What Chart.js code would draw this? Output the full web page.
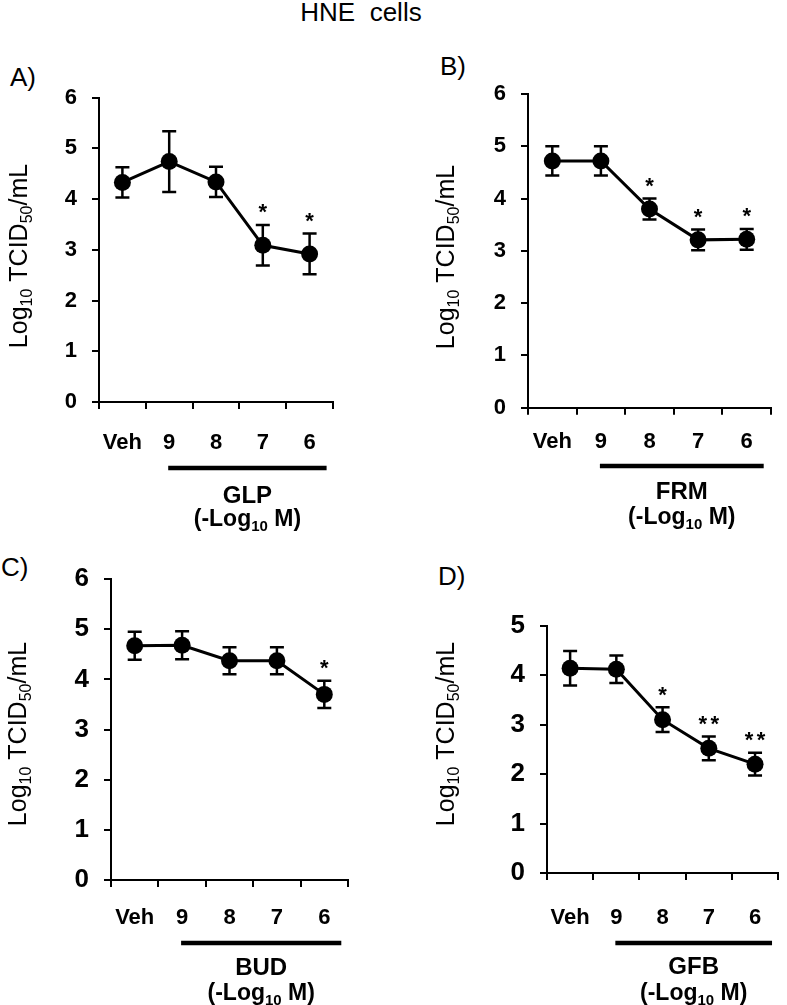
<!DOCTYPE html>
<html>
<head>
<meta charset="utf-8">
<title>HNE cells</title>
<script src="https://cdn.jsdelivr.net/npm/chart.js@4.4.1/dist/chart.umd.min.js"></script>
<style>
  html, body { margin: 0; padding: 0; background: #fff; }
  #page { position: relative; width: 787px; height: 1005px; overflow: hidden;
          font-family: "Liberation Sans", Arial, sans-serif; color: #000; }
  .lbl { position: absolute; font-size: 26px; line-height: 26px; white-space: pre; }
  .box { position: absolute; }
</style>
</head>
<body>
<div id="page">
  <div class="lbl" style="left:0;width:722px;text-align:center;top:-1px">HNE  cells</div>
  <div class="lbl" style="left:10px;top:64px">A)</div>
  <div class="lbl" style="left:440px;top:53px">B)</div>
  <div class="lbl" style="left:1px;top:554px">C)</div>
  <div class="lbl" style="left:438px;top:563px">D)</div>

  <div class="box" style="left:0;top:50px;width:393px;height:485px"><canvas id="cA"></canvas></div>
  <div class="box" style="left:393px;top:50px;width:394px;height:485px"><canvas id="cB"></canvas></div>
  <div class="box" style="left:0;top:540px;width:393px;height:465px"><canvas id="cC"></canvas></div>
  <div class="box" style="left:393px;top:540px;width:394px;height:465px"><canvas id="cD"></canvas></div>
</div>

<script>
// categorias del eje x (dosis, -log10 M)
const categories = ['Veh', '9', '8', '7', '6'];

// A) GLP
const glpMean = [4.33, 4.74, 4.34, 3.09, 2.92];
const glpErr = [0.30, 0.60, 0.30, 0.40, 0.40];
const glpStars = ['', '', '', '*', '*'];

// B) FRM
const frmMean = [4.72, 4.72, 3.80, 3.21, 3.22];
const frmErr = [0.28, 0.28, 0.20, 0.20, 0.20];
const frmStars = ['', '', '*', '*', '*'];

// C) BUD
const budMean = [4.67, 4.68, 4.37, 4.37, 3.70];
const budErr = [0.28, 0.28, 0.27, 0.27, 0.27];
const budStars = ['', '', '', '', '*'];

// D) GFB
const gfbMean = [4.14, 4.12, 3.10, 2.52, 2.20];
const gfbErr = [0.35, 0.28, 0.25, 0.24, 0.23];
const gfbStars = ['', '', '*', '**', '**'];

const yMaxTop = 6;     // A, B, C
const yMaxBottomRight = 5; // D

const FONT = '"Liberation Sans", Arial, sans-serif';
const TICK_LEN = 7;
const X_H = 75;

// paneles: posicion del canvas y del area de trazado (coordenadas de pagina)
const panels = [
    { id: 'cA', left: 0, top: 50, w: 393, h: 485, l: 99, r: 333, t: 97.7, b: 402,
      yMax: yMaxTop, yFont: 22, labelY: 443, barY: 468, nameY: 494, unitY: 518,
      titleX: 21, titleY: 256, name: 'GLP', mean: glpMean, err: glpErr, stars: glpStars },
    { id: 'cB', left: 393, top: 50, w: 394, h: 485, l: 528, r: 771, t: 94, b: 407.7,
      yMax: yMaxTop, yFont: 22, labelY: 442, barY: 466, nameY: 490, unitY: 516,
      titleX: 448, titleY: 257, name: 'FRM', mean: frmMean, err: frmErr, stars: frmStars },
    { id: 'cC', left: 0, top: 540, w: 393, h: 465, l: 111, r: 348, t: 579, b: 880,
      yMax: yMaxTop, yFont: 26, labelY: 918, barY: 943, nameY: 966, unitY: 992,
      titleX: 20, titleY: 734, name: 'BUD', mean: budMean, err: budErr, stars: budStars },
    { id: 'cD', left: 393, top: 540, w: 394, h: 465, l: 547, r: 786, t: 625.7, b: 873,
      yMax: yMaxBottomRight, yFont: 26, labelY: 918, barY: 943, nameY: 965, unitY: 992,
      titleX: 448, titleY: 734, name: 'GFB', mean: gfbMean, err: gfbErr, stars: gfbStars }
];

// texto con subindices
function drawRich(ctx, parts, size, weight, cx, baseY) {
    const subSize = Math.round(size * 0.64);
    let total = 0;
    const widths = parts.map(p => {
        ctx.font = `${weight} ${p.sub ? subSize : size}px ${FONT}`;
        const w = ctx.measureText(p.t).width;
        total += w;
        return w;
    });
    let x = cx - total / 2;
    ctx.textAlign = 'left';
    ctx.textBaseline = 'alphabetic';
    parts.forEach((p, i) => {
        ctx.font = `${weight} ${p.sub ? subSize : size}px ${FONT}`;
        ctx.fillText(p.t, x, baseY + (p.sub ? size * 0.2 : 0));
        x += widths[i];
    });
}

const yTitleParts = [{ t: 'Log' }, { t: '10', sub: true }, { t: ' TCID' }, { t: '50', sub: true }, { t: '/mL' }];
const unitParts = [{ t: '(-Log' }, { t: '10', sub: true }, { t: ' M)' }];

const decorPlugin = {
    id: 'decor',
    beforeDatasetsDraw(chart, args, opts) {
        // barras de error
        const ctx = chart.ctx;
        const xs = chart.scales.x, ys = chart.scales.y;
        ctx.save();
        ctx.strokeStyle = '#000';
        ctx.lineWidth = 2.5;
        opts.mean.forEach((m, i) => {
            const x = xs.getPixelForValue(i);
            const yt = ys.getPixelForValue(m + opts.err[i]);
            const yb = ys.getPixelForValue(m - opts.err[i]);
            ctx.beginPath();
            ctx.moveTo(x, yt); ctx.lineTo(x, yb);
            ctx.moveTo(x - 7, yt); ctx.lineTo(x + 7, yt);
            ctx.moveTo(x - 7, yb); ctx.lineTo(x + 7, yb);
            ctx.stroke();
        });
        ctx.restore();
    },
    afterDatasetsDraw(chart, args, opts) {
        const ctx = chart.ctx;
        const xs = chart.scales.x, ys = chart.scales.y;
        ctx.save();
        ctx.fillStyle = '#000';

        // asteriscos
        ctx.font = `bold 22px ${FONT}`;
        ctx.textAlign = 'center';
        ctx.textBaseline = 'alphabetic';
        opts.stars.forEach((s, i) => {
            if (!s) return;
            const x = xs.getPixelForValue(i);
            const yc = ys.getPixelForValue(opts.mean[i] + opts.err[i]) - 17;
            for (let k = 0; k < s.length; k++) {
                ctx.fillText('*', x + (k - (s.length - 1) / 2) * 12, yc + 11.5);
            }
        });

        // titulo del eje y
        ctx.save();
        ctx.translate(opts.titleX + 0.25 * 25, opts.titleY);
        ctx.rotate(-Math.PI / 2);
        drawRich(ctx, yTitleParts, 25, 'normal', 0, 0);
        ctx.restore();

        // barra del farmaco y etiquetas
        const x1 = xs.getPixelForValue(1) - 1;
        const x2 = xs.getPixelForValue(4) + 17;
        const cx = (x1 + x2) / 2;
        ctx.lineWidth = 4.5;
        ctx.strokeStyle = '#000';
        ctx.beginPath();
        ctx.moveTo(x1, opts.barY);
        ctx.lineTo(x2, opts.barY);
        ctx.stroke();

        ctx.font = `bold 24px ${FONT}`;
        ctx.textAlign = 'center';
        ctx.textBaseline = 'alphabetic';
        ctx.fillText(opts.name, cx, opts.nameY + 8.5);
        drawRich(ctx, unitParts, 23, 'bold', cx, opts.unitY + 8);
        ctx.restore();
    }
};

panels.forEach(p => {
    const canvas = document.getElementById(p.id);
    canvas.width = p.w;
    canvas.height = p.h;
    const plotTop = p.t - p.top;
    const plotBottom = p.b - p.top;
    new Chart(canvas.getContext('2d'), {
        type: 'line',
        data: {
            labels: categories,
            datasets: [{
                data: p.mean,
                borderColor: '#000',
                borderWidth: 3,
                pointRadius: 8.5,
                pointBackgroundColor: '#000',
                pointBorderWidth: 0,
                tension: 0,
                clip: false
            }]
        },
        options: {
            responsive: false,
            animation: false,
            devicePixelRatio: 1,
            layout: {
                padding: {
                    left: 0,
                    top: plotTop,
                    right: p.left + p.w - p.r,
                    bottom: p.h - plotBottom - X_H
                }
            },
            plugins: {
                legend: { display: false },
                tooltip: { enabled: false },
                decor: {
                    mean: p.mean, err: p.err, stars: p.stars, name: p.name,
                    titleX: p.titleX - p.left, titleY: p.titleY - p.top,
                    barY: p.barY - p.top, nameY: p.nameY - p.top, unitY: p.unitY - p.top
                }
            },
            scales: {
                x: {
                    offset: true,
                    grid: { offset: true, drawOnChartArea: false, drawTicks: true,
                            tickLength: TICK_LEN, color: '#000', lineWidth: 2 },
                    border: { display: true, color: '#000', width: 2 },
                    ticks: { color: '#000', padding: p.labelY - p.b - TICK_LEN - 13,
                             font: { family: FONT, size: 22, weight: 'bold' }, maxRotation: 0 },
                    afterFit(scale) { scale.height = X_H; }
                },
                y: {
                    min: 0,
                    max: p.yMax,
                    ticks: { stepSize: 1, color: '#000', padding: 15,
                             font: { family: FONT, size: p.yFont, weight: 'bold' } },
                    grid: { drawOnChartArea: false, drawTicks: true,
                            tickLength: TICK_LEN, color: '#000', lineWidth: 2 },
                    border: { display: true, color: '#000', width: 2 },
                    afterFit(scale) { scale.width = p.l - p.left; }
                }
            }
        },
        plugins: [decorPlugin]
    });
});
</script>
</body>
</html>
